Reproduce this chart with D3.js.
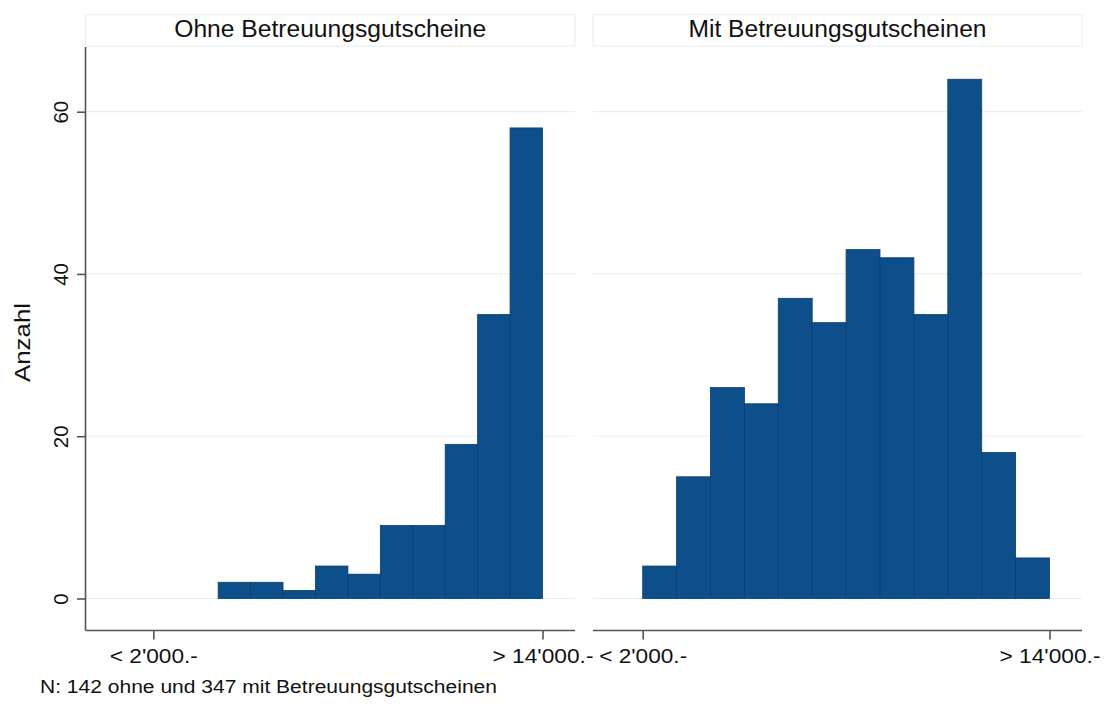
<!DOCTYPE html>
<html lang="de">
<head>
<meta charset="utf-8">
<script src="https://cdn.jsdelivr.net/npm/d3@7"></script>
<style>
  body { margin: 0; background: #fff; }
  text { font-family: "Liberation Sans", Arial, sans-serif; fill: #111; }
</style>
</head>
<body>
<div id="my_dataviz"></div>
<script>
// data: counts per income bin (12 bins from < 2'000.- to > 14'000.-)
const panelTitles = ["Ohne Betreuungsgutscheine", "Mit Betreuungsgutscheinen"];
const countsOhne = [0, 0, 2, 2, 1, 4, 3, 9, 9, 19, 35, 58];
const countsMit = [4, 15, 26, 24, 37, 34, 43, 42, 35, 64, 18, 5];
const xTickValues = [0, 12];
const xTickLabels = ["< 2'000.-", "> 14'000.-"];
const yTicks = [0, 20, 40, 60];
const yLabel = "Anzahl";
const note = "N: 142 ohne und 347 mit Betreuungsgutscheinen";

const svgWidth = 1106, svgHeight = 704;
const plotTop = 47, plotBottom = 630.5;
const barColor = "#0d4f8b";
const gridColor = "#e6f0f1";

const svg = d3.select("#my_dataviz")
    .append("svg")
    .attr("width", svgWidth)
    .attr("height", svgHeight);

// shared y scale
const yScale = d3.scaleLinear().domain([0, 60]).range([598.5, 111.7]);

// panel layout: plot area and pixel range of first/last tick
const panels = [
    { title: panelTitles[0], counts: countsOhne, left: 85.5, right: 575, x0: 153.3, x1: 542.5 },
    { title: panelTitles[1], counts: countsMit, left: 593, right: 1082, x0: 642.7, x1: 1049.5 }
];

panels.forEach(function (p, pi) {
    const xScale = d3.scaleLinear().domain([0, 12]).range([p.x0, p.x1]);
    const g = svg.append("g");

    // header box
    g.append("rect")
        .attr("x", p.left).attr("y", 14.5)
        .attr("width", p.right - p.left).attr("height", 31.5)
        .attr("fill", "#fff")
        .attr("stroke", gridColor).attr("stroke-width", 1.2);
    g.append("text")
        .attr("x", (p.left + p.right) / 2)
        .attr("y", 37.3)
        .attr("text-anchor", "middle")
        .style("font-size", "23.5px")
        .attr("textLength", pi === 0 ? 312 : 298)
        .attr("lengthAdjust", "spacingAndGlyphs")
        .text(p.title);

    // gridlines
    g.selectAll(".grid")
        .data(yTicks)
        .enter()
        .append("line")
        .attr("x1", p.left).attr("x2", p.right)
        .attr("y1", d => yScale(d)).attr("y2", d => yScale(d))
        .attr("stroke", gridColor).attr("stroke-width", 1.2);

    // bars
    g.selectAll(".bar")
        .data(p.counts.map((c, i) => [i, c]).filter(d => d[1] > 0))
        .enter()
        .append("rect")
        .attr("x", d => xScale(d[0]))
        .attr("y", d => yScale(d[1]))
        .attr("width", d => xScale(d[0] + 1) - xScale(d[0]))
        .attr("height", d => yScale(0) - yScale(d[1]))
        .attr("fill", barColor)
        .attr("stroke", "#0a3d70")
        .attr("stroke-width", 0.8);

    // x axis
    const xAxis = g.append("g")
        .attr("transform", `translate(0,${plotBottom})`)
        .call(d3.axisBottom(xScale)
            .tickValues(xTickValues)
            .tickFormat((d, i) => xTickLabels[i])
            .tickSize(9)
            .tickPadding(10));
    xAxis.select(".domain")
        .attr("d", `M${p.left},0H${p.right}`)
        .attr("stroke", "#555").attr("stroke-width", 1.6);
    xAxis.selectAll(".tick line").attr("stroke", "#555").attr("stroke-width", 1.6);
    xAxis.selectAll(".tick text")
        .attr("fill", "#111")
        .style("font-size", "19.5px")
        .attr("dy", "0.71em")
        .attr("textLength", (d, i) => i === 0 ? 88 : 101)
        .attr("lengthAdjust", "spacingAndGlyphs");

    // y axis on the first panel only
    if (pi === 0) {
        const yAxis = g.append("g")
            .attr("transform", `translate(${p.left},0)`)
            .call(d3.axisLeft(yScale)
                .tickValues(yTicks)
                .tickFormat(d3.format("d"))
                .tickSize(8.5)
                .tickPadding(0));
        yAxis.select(".domain")
            .attr("d", `M0,${plotTop}V${plotBottom}`)
            .attr("stroke", "#555").attr("stroke-width", 1.6);
        yAxis.selectAll(".tick line").attr("stroke", "#555").attr("stroke-width", 1.6);
        yAxis.selectAll(".tick text")
            .attr("fill", "#111")
            .style("font-size", "20.5px")
            .attr("x", null).attr("dy", null)
            .attr("text-anchor", "middle")
            .attr("transform", "translate(-18,0) rotate(-90)");
    }
});

// y axis title
svg.append("text")
    .attr("transform", "translate(29.5,342.5) rotate(-90)")
    .attr("text-anchor", "middle")
    .style("font-size", "22px")
    .attr("textLength", 79)
    .attr("lengthAdjust", "spacingAndGlyphs")
    .text(yLabel);

// note
svg.append("text")
    .attr("x", 40)
    .attr("y", 693)
    .style("font-size", "18px")
    .attr("textLength", 457)
    .attr("lengthAdjust", "spacingAndGlyphs")
    .text(note);
</script>
</body>
</html>
